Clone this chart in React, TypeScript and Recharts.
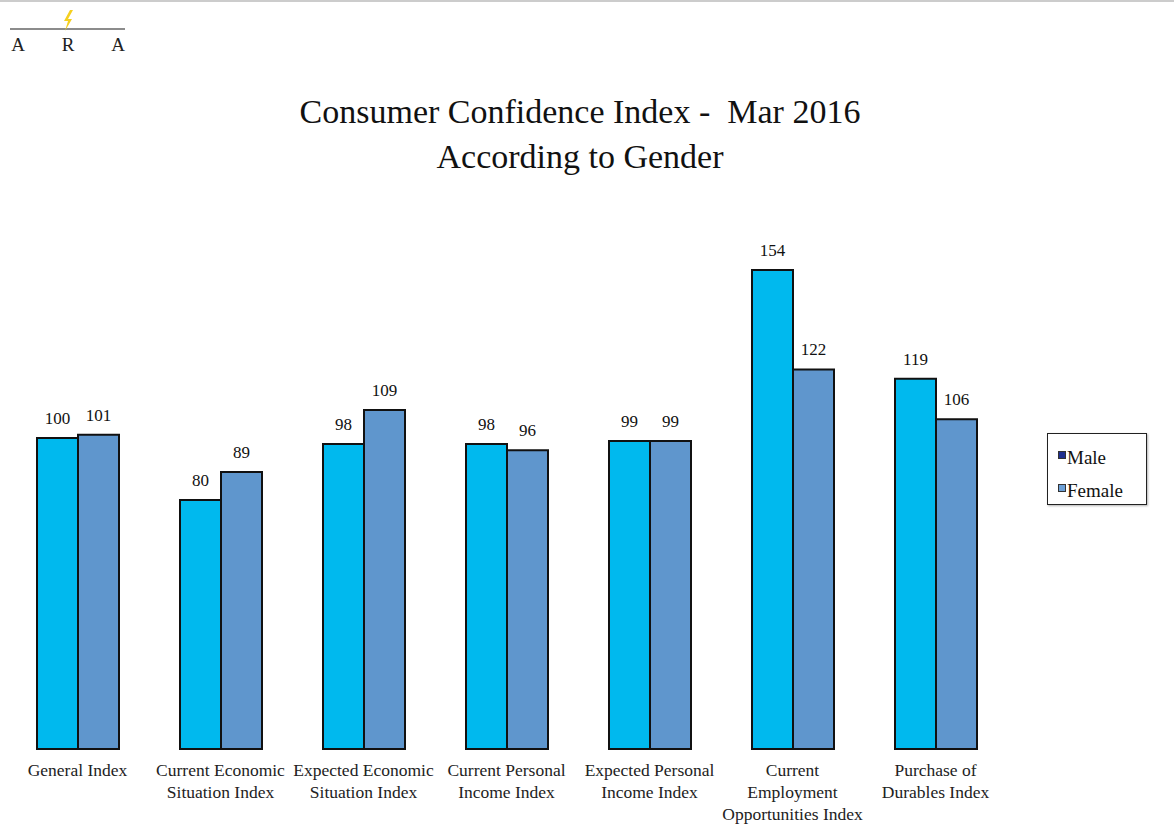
import React from 'react';
import { BarChart, Bar, XAxis, YAxis, LabelList } from 'recharts';

const categories = [
  'General Index',
  'Current Economic Situation Index',
  'Expected Economic Situation Index',
  'Current Personal Income Index',
  'Expected Personal Income Index',
  'Current Employment Opportunities Index',
  'Purchase of Durables Index',
];
const tickLines: string[][] = [
  ['General Index'],
  ['Current Economic', 'Situation Index'],
  ['Expected Economic', 'Situation Index'],
  ['Current Personal', 'Income Index'],
  ['Expected Personal', 'Income Index'],
  ['Current', 'Employment', 'Opportunities Index'],
  ['Purchase of', 'Durables Index'],
];
const maleValues = [100, 80, 98, 98, 99, 154, 119];
const femaleValues = [101, 89, 109, 96, 99, 122, 106];
const seriesNames = ['Male', 'Female'];

const data = categories.map((c, i) => ({ name: c, Male: maleValues[i], Female: femaleValues[i] }));

const SERIF = '"Liberation Serif", "Times New Roman", serif';

const Tick = (props: any) => {
  const { x, y, index } = props;
  const lines = tickLines[index] || [];
  return (
    <text x={x} y={y} textAnchor="middle" fill="#222" fontFamily={SERIF} fontSize={17.5}>
      {lines.map((l, i) => (
        <tspan key={i} x={x} dy={i === 0 ? 19 : 22}>{l}</tspan>
      ))}
    </text>
  );
};

const LegendBox = () => (
  <div style={{ position: 'absolute', left: 1047, top: 433, border: '1.5px solid #222', width: 100, height: 72, boxSizing: 'border-box', padding: '13px 0 0 10px', fontFamily: SERIF, fontSize: 19, lineHeight: '22px', color: '#111', background: '#fff', boxShadow: '1px 1px 2px rgba(0,0,0,0.3)' }}>
    <div style={{ display: 'flex', alignItems: 'flex-start', height: 22 }}>
      <span style={{ display: 'inline-block', width: 6, height: 6, background: '#1f2f8f', border: '1px solid #333', marginTop: 4, marginRight: 1 }} />
      <span>{seriesNames[0]}</span>
    </div>
    <div style={{ display: 'flex', alignItems: 'flex-start', height: 22, marginTop: 11 }}>
      <span style={{ display: 'inline-block', width: 6, height: 6, background: '#6b9fd6', border: '1px solid #333', marginTop: 4, marginRight: 1 }} />
      <span>{seriesNames[1]}</span>
    </div>
  </div>
);

export default function App() {
  return (
    <div style={{ position: 'absolute', left: 0, top: 0, width: 1174, height: 831, background: '#fff', overflow: 'hidden' }}>
      <div style={{ position: 'absolute', left: 0, top: 0, width: 1174, height: 2, background: '#ccc' }} />
      {/* Logo */}
      <svg style={{ position: 'absolute', left: 0, top: 0 }} width={160} height={60}>
        <line x1={10} y1={29} x2={125} y2={29} stroke="#666" strokeWidth={1.5} />
        <polygon points="70,10 64,21 68,21 65,31 72,19 68,19 73,10" fill="#f5d020" />
        <text x={18} y={51} fontFamily={SERIF} fontSize={19} fill="#222" textAnchor="middle">A</text>
        <text x={68} y={51} fontFamily={SERIF} fontSize={19} fill="#222" textAnchor="middle">R</text>
        <text x={118} y={51} fontFamily={SERIF} fontSize={19} fill="#222" textAnchor="middle">A</text>
      </svg>
      {/* Title */}
      <div style={{ position: 'absolute', left: 0, top: 89, width: 1160, textAlign: 'center', fontFamily: SERIF, fontSize: 34, color: '#111', lineHeight: '45px' }}>
        <div>Consumer Confidence Index -&nbsp; Mar 2016</div>
        <div>According to Gender</div>
      </div>
      <div style={{ position: 'absolute', left: 0, top: 0 }}>
        <BarChart
          width={1174}
          height={831}
          data={data}
          margin={{ top: 189, right: 167, left: 6, bottom: 2 }}
          barGap={0}
          barSize={41}
        >
          <XAxis dataKey="name" axisLine={false} tickLine={false} interval={0} height={80} tick={<Tick />} />
          <YAxis hide domain={[0, 180]} />
          <Bar dataKey="Male" fill="#00b9ee" stroke="#111" strokeWidth={2} isAnimationActive={false}>
            <LabelList dataKey="Male" position="top" offset={14} fill="#111" fontSize={17} fontFamily={SERIF} />
          </Bar>
          <Bar dataKey="Female" fill="#5f96cd" stroke="#111" strokeWidth={2} isAnimationActive={false}>
            <LabelList dataKey="Female" position="top" offset={14} fill="#111" fontSize={17} fontFamily={SERIF} />
          </Bar>
        </BarChart>
      </div>
      <LegendBox />
    </div>
  );
}
